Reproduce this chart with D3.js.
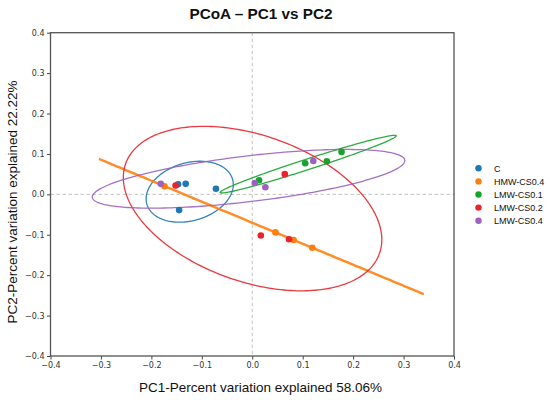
<!DOCTYPE html>
<html>
<head>
<meta charset="utf-8">
<script src="https://cdn.jsdelivr.net/npm/d3@7"></script>
<style>
  html, body { margin: 0; padding: 0; background: #fff; }
  svg { display: block; }
</style>
</head>
<body>
<svg id="chart" width="550" height="400"></svg>
<script>
// ---- data ----
const groups = ["C", "HMW-CS0.4", "LMW-CS0.1", "LMW-CS0.2", "LMW-CS0.4"];
const colors = ["#1f77b4", "#ff7f0e", "#16a22c", "#e8232b", "#9b62c0"];
const pc1_C    = [-0.147, -0.132, -0.072, -0.145];
const pc2_C    = [ 0.025,  0.026,  0.014, -0.039];
const pc1_HMW04 = [-0.174, 0.046, 0.082, 0.119];
const pc2_HMW04 = [ 0.0202, -0.0941, -0.1128, -0.1321];
const pc1_LMW01 = [0.0135, 0.105, 0.148, 0.177];
const pc2_LMW01 = [0.035, 0.077, 0.082, 0.105];
const pc1_LMW02 = [-0.152, 0.0645, 0.017, 0.073];
const pc2_LMW02 = [ 0.022, 0.050, -0.102, -0.111];
const pc1_LMW04 = [-0.1815, 0.005, 0.026, 0.121];
const pc2_LMW04 = [ 0.026, 0.028, 0.0175, 0.0825];
const xTicks = [-0.4, -0.3, -0.2, -0.1, 0.0, 0.1, 0.2, 0.3, 0.4];
const yTicks = [-0.4, -0.3, -0.2, -0.1, 0.0, 0.1, 0.2, 0.3, 0.4];
const titleText = "PCoA \u2013 PC1 vs PC2";
const xLabel = "PC1-Percent variation explained 58.06%";
const yLabel = "PC2-Percent variation explained 22.22%";
const nStd = 2.4477; // 95% confidence ellipse

const series = [
  {name: groups[0], x: pc1_C, y: pc2_C},
  {name: groups[1], x: pc1_HMW04, y: pc2_HMW04},
  {name: groups[2], x: pc1_LMW01, y: pc2_LMW01},
  {name: groups[3], x: pc1_LMW02, y: pc2_LMW02},
  {name: groups[4], x: pc1_LMW04, y: pc2_LMW04}
];

// ---- layout ----
const svg = d3.select("#chart");
const mLeft = 50.5, mRight = 454, mTop = 32.7, mBottom = 356;
const x = d3.scaleLinear().domain([-0.4, 0.4]).range([mLeft, mRight]);
const y = d3.scaleLinear().domain([-0.4, 0.4]).range([mBottom, mTop]);
const color = d3.scaleOrdinal().domain(groups).range(colors);

// reference dashed lines at 0
svg.append("line").attr("x1", x(0)).attr("x2", x(0)).attr("y1", mTop).attr("y2", mBottom)
  .attr("stroke", "#bbbbbb").attr("stroke-width", 0.9).attr("stroke-dasharray", "3.5,2.5");
svg.append("line").attr("x1", mLeft).attr("x2", mRight).attr("y1", y(0)).attr("y2", y(0))
  .attr("stroke", "#bbbbbb").attr("stroke-width", 0.9).attr("stroke-dasharray", "3.5,2.5");

// confidence ellipses (matplotlib-style)
function ellipsePoints(xs, ys) {
  const n = xs.length;
  const mx = d3.mean(xs), my = d3.mean(ys);
  let sxx = 0, syy = 0, sxy = 0;
  for (let i = 0; i < n; i++) {
    sxx += (xs[i] - mx) ** 2;
    syy += (ys[i] - my) ** 2;
    sxy += (xs[i] - mx) * (ys[i] - my);
  }
  sxx /= (n - 1); syy /= (n - 1); sxy /= (n - 1);
  const p = sxy / Math.sqrt(sxx * syy);
  const rx = Math.sqrt(1 + p), ry = Math.sqrt(Math.max(0, 1 - p));
  const sx = Math.sqrt(sxx) * nStd, sy = Math.sqrt(syy) * nStd;
  const c = Math.cos(Math.PI / 4), s = Math.sin(Math.PI / 4);
  const pts = [];
  for (let k = 0; k <= 240; k++) {
    const t = 2 * Math.PI * k / 240;
    const ux = rx * Math.cos(t), uy = ry * Math.sin(t);
    const qx = ux * c - uy * s, qy = ux * s + uy * c;
    pts.push([mx + qx * sx, my + qy * sy]);
  }
  return pts;
}
const lineGen = d3.line().x(d => x(d[0])).y(d => y(d[1]));

series.forEach(sr => {
  svg.append("path")
    .attr("d", lineGen(ellipsePoints(sr.x, sr.y)))
    .attr("fill", "none")
    .attr("stroke", color(sr.name))
    .attr("stroke-width", sr.name === "HMW-CS0.4" ? 2.4 : 1.3)
    .attr("opacity", 0.9);
});

// points
series.forEach(sr => {
  svg.append("g").selectAll("circle")
    .data(sr.x.map((v, i) => [v, sr.y[i]]))
    .join("circle")
    .attr("cx", d => x(d[0]))
    .attr("cy", d => y(d[1]))
    .attr("r", 3.3)
    .attr("fill", color(sr.name));
});

// axes
const fmt = d3.format(".1f");
const xAxis = svg.append("g").attr("transform", `translate(0,${mBottom})`)
  .call(d3.axisBottom(x).tickValues(xTicks).tickFormat(fmt).tickSize(3.5).tickPadding(2.5));
const yAxis = svg.append("g").attr("transform", `translate(${mLeft},0)`)
  .call(d3.axisLeft(y).tickValues(yTicks).tickFormat(fmt).tickSize(3.5).tickPadding(2.5));
[xAxis, yAxis].forEach(g => {
  g.select(".domain").remove();
  g.selectAll(".tick line").attr("stroke", "#444").attr("stroke-width", 1);
  g.selectAll(".tick text").attr("fill", "#333")
    .style("font-family", "'DejaVu Sans', sans-serif").style("font-size", "8px");
});

// frame
svg.append("rect").attr("x", mLeft).attr("y", mTop)
  .attr("width", mRight - mLeft).attr("height", mBottom - mTop)
  .attr("fill", "none").attr("stroke", "#555").attr("stroke-width", 1.3);

// title and labels
svg.append("text").attr("x", 261).attr("y", 18.5).attr("text-anchor", "middle")
  .style("font-family", "'Liberation Sans', Arial, sans-serif").style("font-weight", "bold")
  .style("font-size", "15.3px").attr("fill", "#111").text(titleText);
svg.append("text").attr("x", 260.5).attr("y", 391.5).attr("text-anchor", "middle")
  .style("font-family", "'Liberation Sans', Arial, sans-serif")
  .style("font-size", "13.5px").attr("fill", "#111").text(xLabel);
svg.append("text").attr("transform", "translate(17,202) rotate(-90)").attr("text-anchor", "middle")
  .style("font-family", "'Liberation Sans', Arial, sans-serif")
  .style("font-size", "13.5px").attr("fill", "#111").text(yLabel);

// legend
const leg = svg.append("g");
groups.forEach((gname, i) => {
  const cy = 168.3 + i * 13.1;
  leg.append("circle").attr("cx", 478.5).attr("cy", cy).attr("r", 3.2).attr("fill", color(gname));
  leg.append("text").attr("x", 494).attr("y", cy + 3.2)
    .style("font-family", "'Liberation Sans', Arial, sans-serif")
    .style("font-size", "9px").attr("fill", "#111").text(gname);
});
</script>
</body>
</html>
